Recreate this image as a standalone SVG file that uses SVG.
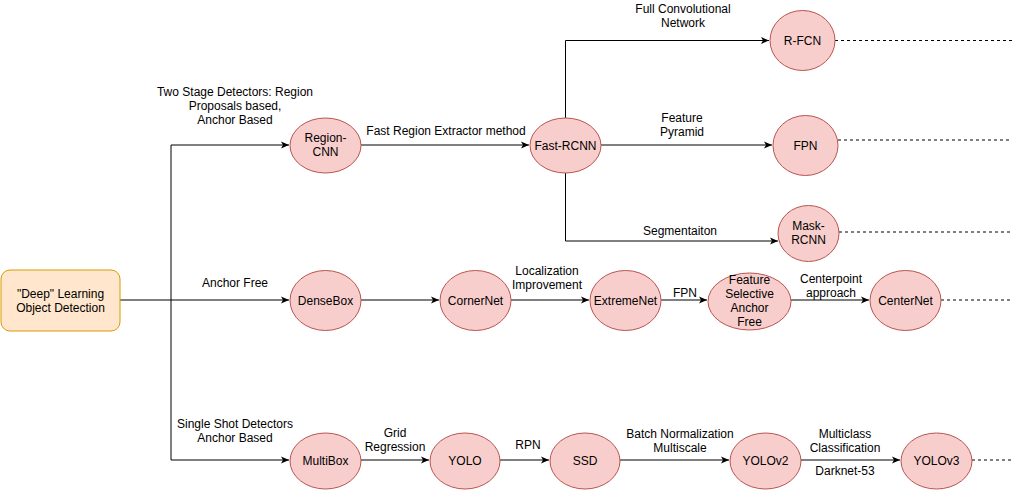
<svg xmlns="http://www.w3.org/2000/svg" width="1012" height="491" viewBox="0 0 1012 491">
<defs>
<style>
text{font-family:"Liberation Sans",Arial,sans-serif;font-size:12px;fill:#000;text-anchor:middle}
.n ellipse{fill:#f8cecc;stroke:#b85450;stroke-width:1}
.e{fill:none;stroke:#000;stroke-width:1}
.d{fill:none;stroke:#000;stroke-width:1;stroke-dasharray:3 3}
</style>
<marker id="a" markerWidth="10" markerHeight="10" refX="8" refY="4" orient="auto" markerUnits="userSpaceOnUse">
<path d="M0,0.5 L8,4 L0,7.5 L2,4 Z" fill="#000"/>
</marker>
</defs>
<rect width="1012" height="491" fill="#fff"/>
<g id="connectors">
<path class="e" d="M120,300 H171"/>
<path class="e" d="M171,145 V460"/>
<path class="e" d="M171,145 H289" marker-end="url(#a)"/>
<path class="e" d="M171,300 H289" marker-end="url(#a)"/>
<path class="e" d="M171,460 H289" marker-end="url(#a)"/>
<path class="e" d="M361,145 H529" marker-end="url(#a)"/>
<path class="e" d="M565.5,118 V40.5 H769" marker-end="url(#a)"/>
<path class="e" d="M601,145 H772" marker-end="url(#a)"/>
<path class="e" d="M565.5,173 V241 H778" marker-end="url(#a)"/>
<path class="e" d="M361,300 H439" marker-end="url(#a)"/>
<path class="e" d="M511,300 H589" marker-end="url(#a)"/>
<path class="e" d="M661,300 H707" marker-end="url(#a)"/>
<path class="e" d="M791,300 H869" marker-end="url(#a)"/>
<path class="e" d="M361,460 H429" marker-end="url(#a)"/>
<path class="e" d="M500,460 H549" marker-end="url(#a)"/>
<path class="e" d="M620,460 H729" marker-end="url(#a)"/>
<path class="e" d="M801,460 H900" marker-end="url(#a)"/>
<path class="d" d="M835,40.5 H1012"/>
<path class="d" d="M838,140 H1012"/>
<path class="d" d="M839,232 H1012"/>
<path class="d" d="M941,300 H1012"/>
<path class="d" d="M972,460 H1012"/>
</g>
<g id="labels">
<text x="235" y="96">Two Stage Detectors: Region</text>
<text x="235" y="110">Proposals based,</text>
<text x="235" y="124">Anchor Based</text>
<text x="446" y="135">Fast Region Extractor method</text>
<text x="683" y="13">Full Convolutional</text>
<text x="683" y="27">Network</text>
<text x="682" y="122">Feature</text>
<text x="682" y="136">Pyramid</text>
<text x="680" y="235">Segmentaiton</text>
<text x="235" y="287">Anchor Free</text>
<text x="547" y="275">Localization</text>
<text x="547" y="289">Improvement</text>
<text x="685" y="297">FPN</text>
<text x="831" y="283">Centerpoint</text>
<text x="831" y="297">approach</text>
<text x="235" y="428">Single Shot Detectors</text>
<text x="235" y="442">Anchor Based</text>
<text x="395" y="437">Grid</text>
<text x="395" y="451">Regression</text>
<text x="528" y="449">RPN</text>
<text x="680" y="438">Batch Normalization</text>
<text x="680" y="452">Multiscale</text>
<text x="845" y="438">Multiclass</text>
<text x="845" y="452">Classification</text>
<text x="845" y="475">Darknet-53</text>
</g>
<g id="root">
<rect x="1" y="270" width="119" height="61" rx="9" fill="#ffe6cc" stroke="#d79b00"/>
<text x="60.5" y="298">"Deep" Learning</text>
<text x="60.5" y="312">Object Detection</text>
</g>
<g id="region-cnn" class="n"><ellipse cx="325.5" cy="145.5" rx="35.5" ry="27.5"/><text x="325.5" y="142">Region-</text><text x="325.5" y="156">CNN</text></g>
<g id="fast-rcnn" class="n"><ellipse cx="565.5" cy="145.5" rx="35.5" ry="27.5"/><text x="565.5" y="149.5">Fast-RCNN</text></g>
<g id="r-fcn" class="n"><ellipse cx="802.5" cy="40.5" rx="32.5" ry="30"/><text x="802.5" y="44.5">R-FCN</text></g>
<g id="fpn" class="n"><ellipse cx="805.5" cy="145.5" rx="32.5" ry="30"/><text x="805.5" y="149.5">FPN</text></g>
<g id="mask-rcnn" class="n"><ellipse cx="808.5" cy="233.5" rx="30.5" ry="28"/><text x="808.5" y="230">Mask-</text><text x="808.5" y="244">RCNN</text></g>
<g id="densebox" class="n"><ellipse cx="325.5" cy="300.5" rx="35.5" ry="30"/><text x="325.5" y="304.5">DenseBox</text></g>
<g id="cornernet" class="n"><ellipse cx="475.5" cy="300.5" rx="35.5" ry="30"/><text x="475.5" y="304.5">CornerNet</text></g>
<g id="extremenet" class="n"><ellipse cx="625.5" cy="300.5" rx="35.5" ry="30"/><text x="625.5" y="304.5">ExtremeNet</text></g>
<g id="fsaf" class="n"><ellipse cx="749.5" cy="301.5" rx="41.5" ry="28.5"/><text x="749.5" y="284">Feature</text><text x="749.5" y="298">Selective</text><text x="749.5" y="312">Anchor</text><text x="749.5" y="326">Free</text></g>
<g id="centernet" class="n"><ellipse cx="905.5" cy="300.5" rx="35.5" ry="30"/><text x="905.5" y="304.5">CenterNet</text></g>
<g id="multibox" class="n"><ellipse cx="325.5" cy="461" rx="35.5" ry="28"/><text x="325.5" y="465">MultiBox</text></g>
<g id="yolo" class="n"><ellipse cx="465" cy="461" rx="35" ry="28"/><text x="465" y="465">YOLO</text></g>
<g id="ssd" class="n"><ellipse cx="585" cy="461" rx="35" ry="28"/><text x="585" y="465">SSD</text></g>
<g id="yolov2" class="n"><ellipse cx="765.5" cy="461" rx="35.5" ry="28"/><text x="765.5" y="465">YOLOv2</text></g>
<g id="yolov3" class="n"><ellipse cx="936.5" cy="461" rx="35.5" ry="28"/><text x="936.5" y="465">YOLOv3</text></g>
</svg>
